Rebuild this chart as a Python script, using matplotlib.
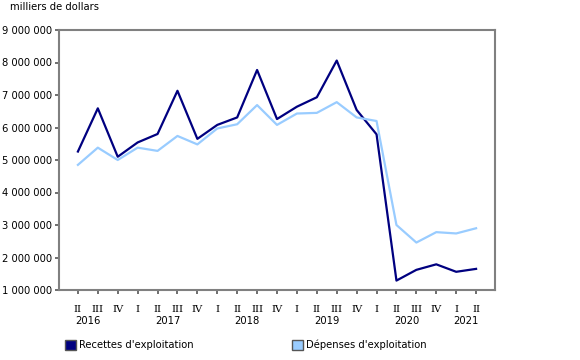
import matplotlib.pyplot as plt
from matplotlib.patches import Patch

quarters = ["II", "III", "IV", "I", "II", "III", "IV", "I", "II", "III", "IV",
            "I", "II", "III", "IV", "I", "II", "III", "IV", "I", "II"]
years = ["2016", "2017", "2018", "2019", "2020", "2021"]
year_pos = [0.5, 4.5, 8.5, 12.5, 16.5, 19.5]

recettes = [5260000, 6590000, 5100000, 5540000, 5800000, 7130000, 5650000,
            6080000, 6310000, 7770000, 6260000, 6640000, 6930000, 8060000,
            6540000, 5790000, 1290000, 1620000, 1790000, 1560000, 1650000]
depenses = [4850000, 5380000, 5000000, 5380000, 5280000, 5740000, 5480000,
            5970000, 6100000, 6690000, 6080000, 6430000, 6450000, 6780000,
            6310000, 6200000, 3000000, 2460000, 2780000, 2740000, 2900000]

dark = "#000080"
light = "#99ccff"

plt.rcParams['font.family'] = ['DejaVu Sans']
fig = plt.figure(figsize=(5.8, 3.6), dpi=100)
ax = fig.add_axes([59 / 580, 70 / 360, 436 / 580, 260 / 360])

x = list(range(len(quarters)))
ax.plot(x, recettes, color=dark, lw=1.6)
ax.plot(x, depenses, color=light, lw=1.6)

ax.set_xlim(-0.95, 20.95)
ax.set_ylim(1000000, 9000000)
ax.set_yticks(range(1000000, 9000001, 1000000))
ax.set_yticklabels([f"{v:,}".replace(",", " ") for v in range(1000000, 9000001, 1000000)])
ax.set_xticks(x)
ax.set_xticklabels(quarters, fontfamily="DejaVu Serif", fontsize=7.5)
ax.tick_params(axis="both", labelsize=7.2, color="#555555", length=3, width=1.2)
ax.tick_params(axis="x", pad=8)
ax.tick_params(axis="y", pad=2)

for s in ax.spines.values():
    s.set_color("#808080")
    s.set_linewidth(1.5)

for yr, p in zip(years, year_pos):
    ax.text(p, -0.118, yr, transform=ax.get_xaxis_transform(), ha="center",
            va="center", fontsize=7.2)

fig.text(10 / 580, 1 - 7 / 360, "milliers de dollars", fontsize=7.2, va="center")

handles = [Patch(facecolor=dark, edgecolor="#555555", label="Recettes d'exploitation"),
           Patch(facecolor=light, edgecolor="#555555", label="Dépenses d'exploitation")]
fig.legend(handles=handles, loc="center left", bbox_to_anchor=(56 / 580, 1 - 345 / 360),
           ncol=2, frameon=False, fontsize=7.2, handlelength=1.1, handleheight=1.2,
           handletextpad=0.3, columnspacing=9.8)

fig.savefig("out.png", dpi=100)
